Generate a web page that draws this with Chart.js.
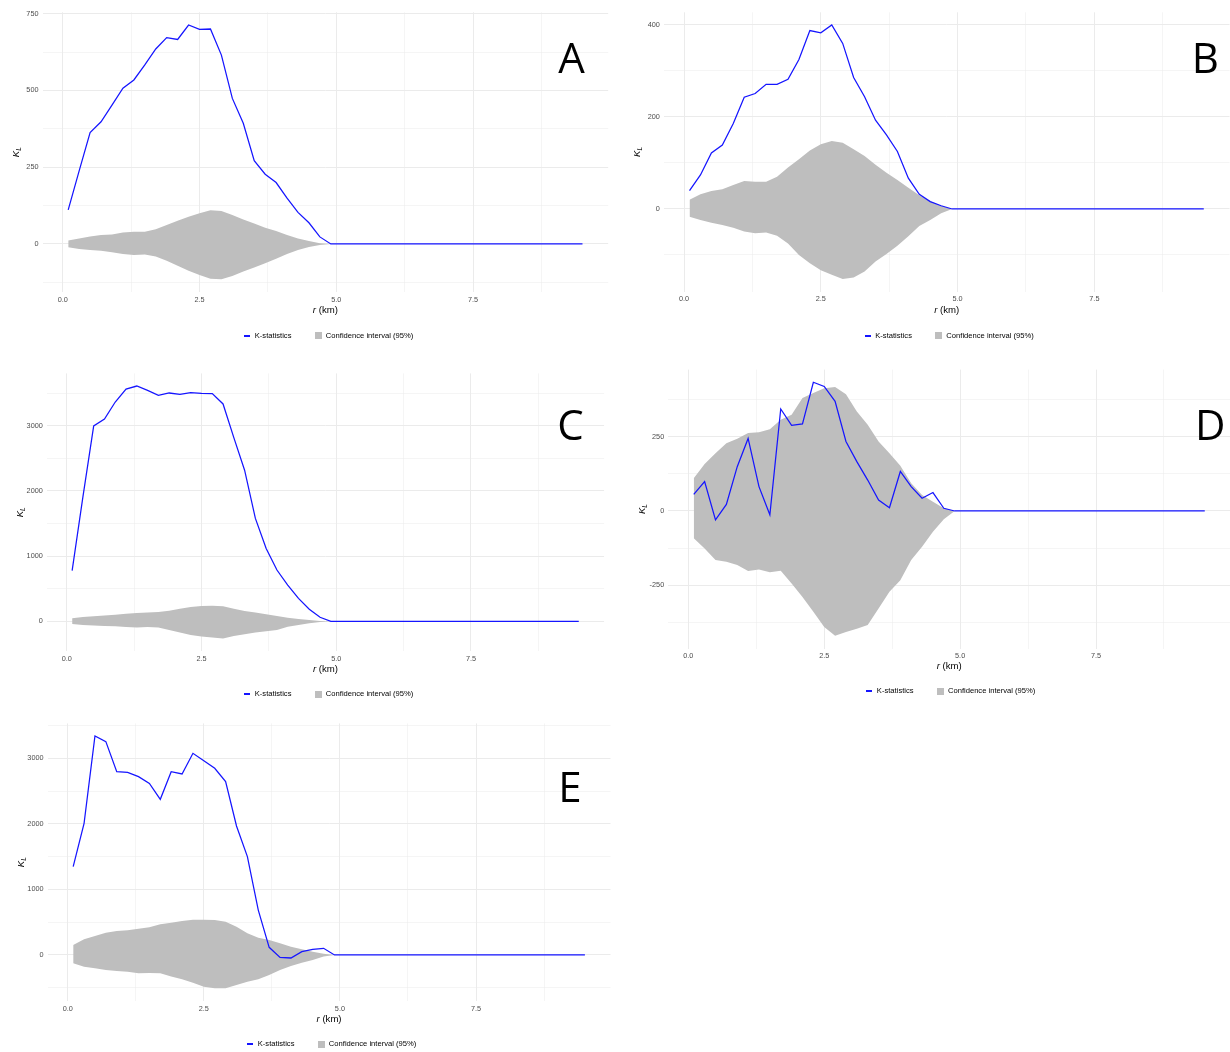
<!DOCTYPE html>
<html>
<head>
<meta charset="utf-8">
<script src="https://cdn.jsdelivr.net/npm/chart.js@4.4.1/dist/chart.umd.min.js"></script>
<style>
  html, body { margin: 0; padding: 0; background: #fff; width: 1230px; height: 1052px; overflow: hidden; }
  canvas { position: absolute; }
</style>
</head>
<body>
<canvas id="panelA"></canvas>
<canvas id="panelB"></canvas>
<canvas id="panelC"></canvas>
<canvas id="panelD"></canvas>
<canvas id="panelE"></canvas>
<script>
// distance r (km)
const r = [0.1, 0.3, 0.5, 0.7, 0.9, 1.1, 1.3, 1.5, 1.7, 1.9, 2.1, 2.3, 2.5, 2.7, 2.9, 3.1,
           3.3, 3.5, 3.7, 3.9, 4.1, 4.3, 4.5, 4.7, 4.9, 5.1, 5.3, 5.5, 5.7, 5.9, 6.1, 6.3,
           6.5, 6.7, 6.9, 7.1, 7.3, 7.5, 7.7, 7.9, 8.1, 8.3, 8.5, 8.7, 8.9, 9.1, 9.3, 9.5];

// A
const kA = [111, 238, 363, 398, 452, 507, 534, 583, 635, 672, 666, 713, 699, 700, 615, 474,
            393, 271, 227, 200, 149, 103, 69, 23, 0, 0, 0, 0, 0, 0, 0, 0,
            0, 0, 0, 0, 0, 0, 0, 0, 0, 0, 0, 0, 0, 0, 0, 0];
const hiA = [11, 18, 24, 29, 31, 37, 40, 40, 48, 62, 76, 89, 100, 110, 107, 94,
             80, 67, 53, 42, 29, 18, 10, 2, 0, 0, 0, 0, 0, 0, 0, 0,
             0, 0, 0, 0, 0, 0, 0, 0, 0, 0, 0, 0, 0, 0, 0, 0];
const loA = [-11, -16, -20, -22, -27, -33, -36, -34, -41, -55, -71, -87, -101, -113, -115, -104,
             -90, -77, -63, -48, -33, -20, -10, -3, 0, 0, 0, 0, 0, 0, 0, 0,
             0, 0, 0, 0, 0, 0, 0, 0, 0, 0, 0, 0, 0, 0, 0, 0];

// B
const kB = [40, 74, 122, 139, 186, 243, 251, 271, 271, 282, 325, 388, 383, 400, 360, 286,
            244, 193, 161, 125, 67, 32, 16, 7, 0, 0, 0, 0, 0, 0, 0, 0,
            0, 0, 0, 0, 0, 0, 0, 0, 0, 0, 0, 0, 0, 0, 0, 0];
const hiB = [20, 32, 39, 43, 52, 61, 59, 59, 70, 90, 108, 127, 141, 148, 144, 130,
             115, 96, 79, 63, 46, 30, 17, 7, 0, 0, 0, 0, 0, 0, 0, 0,
             0, 0, 0, 0, 0, 0, 0, 0, 0, 0, 0, 0, 0, 0, 0, 0];
const loB = [-17, -24, -30, -35, -41, -49, -53, -51, -58, -75, -100, -118, -133, -143, -152, -149,
             -136, -114, -98, -80, -59, -37, -24, -9, 0, 0, 0, 0, 0, 0, 0, 0,
             0, 0, 0, 0, 0, 0, 0, 0, 0, 0, 0, 0, 0, 0, 0, 0];

// C
const kC = [776, 1908, 2995, 3102, 3362, 3561, 3607, 3541, 3464, 3500, 3480, 3505, 3495, 3490, 3332, 2816,
            2316, 1577, 1117, 786, 556, 352, 184, 61, 0, 0, 0, 0, 0, 0, 0, 0,
            0, 0, 0, 0, 0, 0, 0, 0, 0, 0, 0, 0, 0, 0, 0, 0];
const hiC = [46, 66, 77, 87, 102, 117, 128, 133, 143, 163, 194, 219, 235, 240, 230, 194,
             158, 133, 107, 82, 56, 36, 20, 5, 0, 0, 0, 0, 0, 0, 0, 0,
             0, 0, 0, 0, 0, 0, 0, 0, 0, 0, 0, 0, 0, 0, 0, 0];
const loC = [-41, -56, -66, -71, -77, -87, -97, -87, -97, -133, -173, -209, -235, -250, -265, -224,
             -199, -173, -153, -133, -82, -56, -31, -10, 0, 0, 0, 0, 0, 0, 0, 0,
             0, 0, 0, 0, 0, 0, 0, 0, 0, 0, 0, 0, 0, 0, 0, 0];

// D
const kD = [56, 99, -30, 22, 149, 244, 82, -13, 343, 288, 293, 433, 419, 369, 234, 166,
            104, 37, 11, 133, 82, 43, 62, 9, 0, 0, 0, 0, 0, 0, 0, 0,
            0, 0, 0, 0, 0, 0, 0, 0, 0, 0, 0, 0, 0, 0, 0, 0];
const hiD = [110, 158, 194, 228, 243, 262, 265, 275, 307, 324, 380, 397, 413, 417, 393, 335,
             290, 234, 194, 152, 93, 54, 31, 9, 0, 0, 0, 0, 0, 0, 0, 0,
             0, 0, 0, 0, 0, 0, 0, 0, 0, 0, 0, 0, 0, 0, 0, 0];
const loD = [-92, -126, -165, -171, -182, -202, -197, -206, -201, -244, -289, -339, -390, -420, -407, -396,
             -384, -328, -272, -233, -165, -120, -70, -28, 0, 0, 0, 0, 0, 0, 0, 0,
             0, 0, 0, 0, 0, 0, 0, 0, 0, 0, 0, 0, 0, 0, 0, 0];

// E
const kE = [1347, 2008, 3340, 3254, 2796, 2786, 2720, 2618, 2374, 2796, 2761, 3076, 2964, 2847, 2644, 1968,
            1500, 685, 117, -36, -46, 51, 86, 102, 0, 0, 0, 0, 0, 0, 0, 0,
            0, 0, 0, 0, 0, 0, 0, 0, 0, 0, 0, 0, 0, 0, 0, 0];
const hiE = [153, 239, 290, 341, 366, 376, 402, 422, 468, 493, 519, 539, 539, 534, 508, 432,
             330, 264, 229, 178, 127, 86, 51, 20, 0, 0, 0, 0, 0, 0, 0, 0,
             0, 0, 0, 0, 0, 0, 0, 0, 0, 0, 0, 0, 0, 0, 0, 0];
const loE = [-127, -178, -203, -229, -244, -254, -280, -275, -280, -330, -371, -422, -483, -508, -508, -458,
             -407, -371, -305, -229, -168, -117, -76, -25, 0, 0, 0, 0, 0, 0, 0, 0,
             0, 0, 0, 0, 0, 0, 0, 0, 0, 0, 0, 0, 0, 0, 0, 0];

const FONT = '"Liberation Sans", Arial, Helvetica, sans-serif';
const BLUE = '#1515ff';
const GREY = '#bebebe';
const LEG_FONT = 7.6;
const LEG_PAD = 23;
const X_STEP = 1.25;   // minor grid step on r, labels every 2.5

Chart.defaults.font.family = FONT;

// canvas box, plot area (page px), legend centre, panel letter
const panels = [
  { id: 'panelA', k: kA, hi: hiA, lo: loA, yStep: 125, yMajor: 250,
    box: [0, 0, 620, 350], area: [42.5, 12.3, 608.2, 292.0], legend: [328.3, 335.7], tag: ['A', 571.5, 72.7] },
  { id: 'panelB', k: kB, hi: hiB, lo: loB, yStep: 100, yMajor: 200,
    box: [620, 0, 612, 350], area: [663.8, 12.3, 1229.5, 291.6], legend: [948.8, 335.7], tag: ['B', 1205.3, 72.7] },
  { id: 'panelC', k: kC, hi: hiC, lo: loC, yStep: 500, yMajor: 1000,
    box: [0, 355, 620, 355], area: [46.8, 373.4, 604.1, 651.2], legend: [328.3, 694.3], tag: ['C', 570.5, 440.2] },
  { id: 'panelD', k: kD, hi: hiD, lo: loD, yStep: 125, yMajor: 250,
    box: [620, 355, 612, 355], area: [668.2, 369.6, 1230.3, 648.5], legend: [950.4, 691.3], tag: ['D', 1210.3, 440] },
  { id: 'panelE', k: kE, hi: hiE, lo: loE, yStep: 500, yMajor: 1000,
    box: [0, 705, 620, 355], area: [47.6, 723.4, 610.5, 1000.9], legend: [331.3, 1044], tag: ['E', 569.8, 802.4] }
];

// legend keys: short blue line and grey square
function keyImage(w, h, color) {
  const c = document.createElement('canvas');
  c.width = w; c.height = h;
  const g = c.getContext('2d');
  g.fillStyle = color;
  g.fillRect(0, 0, w, h);
  return c;
}
const lineKey = keyImage(6, 2, BLUE);
const boxKey = keyImage(7, 7, GREY);

// every multiple of step inside the axis range (major + minor grid)
function stepTicks(scale, step) {
  const out = [];
  for (let i = Math.ceil(scale.min / step); i * step <= scale.max; i++) {
    out.push({ value: i * step });
  }
  scale.ticks = out;
}

// ggplot-like legend: centred under the plot, not the canvas
const centreLegend = {
  id: 'centreLegend',
  afterLayout(chart, args, opts) {
    const lg = chart.legend;
    const half = (lg.right - lg.left) / 2;
    lg.left = opts.x - half;
    lg.right = opts.x + half;
  }
};

// "r (km)" under the x axis and K_L beside the y axis
const axisTitles = {
  id: 'axisTitles',
  afterDraw(chart) {
    const { ctx, chartArea: a } = chart;
    const italic = 'italic 9.6px ' + FONT;
    const plain = '9.6px ' + FONT;
    const sub = 'italic 6.5px ' + FONT;
    ctx.save();
    ctx.fillStyle = '#000';
    ctx.textAlign = 'left';
    ctx.textBaseline = 'middle';
    ctx.font = italic;
    const w1 = ctx.measureText('r').width;
    ctx.font = plain;
    const w2 = ctx.measureText(' (km)').width;
    const x = (a.left + a.right) / 2 - (w1 + w2) / 2;
    const y = a.bottom + 18.3;
    ctx.font = italic;
    ctx.fillText('r', x, y);
    ctx.font = plain;
    ctx.fillText(' (km)', x + w1, y);

    ctx.translate(a.left - 23.5, (a.top + a.bottom) / 2);
    ctx.rotate(-Math.PI / 2);
    ctx.textBaseline = 'alphabetic';
    ctx.font = italic;
    const kw = ctx.measureText('K').width;
    ctx.font = sub;
    const lw = ctx.measureText('L').width;
    const x0 = -(kw + lw) / 2;
    ctx.font = italic;
    ctx.fillText('K', x0, 0);
    ctx.font = sub;
    ctx.fillText('L', x0 + kw, 2);
    ctx.restore();
  }
};

// big panel letter
const panelTag = {
  id: 'panelTag',
  afterDraw(chart, args, opts) {
    const ctx = chart.ctx;
    ctx.save();
    ctx.fillStyle = '#000';
    ctx.font = '42px "Open Sans", "Noto Sans", sans-serif';
    ctx.textAlign = 'center';
    ctx.textBaseline = 'alphabetic';
    ctx.fillText(opts.text, opts.x, opts.y);
    ctx.restore();
  }
};

function pts(values) {
  return values.map((v, i) => ({ x: r[i], y: v }));
}

function makePanel(p) {
  const [bx, by, bw, bh] = p.box;
  const [al, at, ar, ab] = p.area;
  const cv = document.getElementById(p.id);
  cv.width = bw;
  cv.height = bh;
  cv.style.left = bx + 'px';
  cv.style.top = by + 'px';

  const legendTop = p.legend[1] - LEG_PAD - LEG_FONT / 2;
  const legendH = LEG_FONT + LEG_PAD + 10;
  const xAxisH = legendTop - ab;
  const padBottom = (by + bh) - (legendTop + legendH);

  // 5% expansion on both ends, as ggplot does
  const all = p.k.concat(p.hi, p.lo);
  const lo = Math.min(...all), hi = Math.max(...all);
  const ext = (hi - lo) * 0.05;
  const xr = r[r.length - 1] - r[0];

  const isMajorY = v => Math.abs(v / p.yMajor - Math.round(v / p.yMajor)) < 1e-9;
  const isMajorX = v => Math.abs(v / 2.5 - Math.round(v / 2.5)) < 1e-9;

  return new Chart(cv, {
    type: 'line',
    data: {
      datasets: [
        { label: 'K-statistics', data: pts(p.k), borderColor: BLUE, borderWidth: 1.25,
          pointRadius: 0, fill: false },
        { label: 'ci-high', data: pts(p.hi), borderColor: 'rgba(0,0,0,0)', borderWidth: 0,
          pointRadius: 0, backgroundColor: GREY, fill: '+1' },
        { label: 'ci-low', data: pts(p.lo), borderColor: 'rgba(0,0,0,0)', borderWidth: 0,
          pointRadius: 0, fill: false }
      ]
    },
    options: {
      responsive: false,
      animation: false,
      events: [],
      layout: { padding: { top: at - by, right: (bx + bw) - ar, left: 0, bottom: padBottom } },
      scales: {
        x: {
          type: 'linear',
          min: r[0] - xr * 0.05,
          max: r[r.length - 1] + xr * 0.05,
          border: { display: false },
          grid: {
            drawTicks: false,
            color: '#ebebeb',
            lineWidth: c => (isMajorX(c.tick.value) ? 1 : 0.5)
          },
          ticks: {
            autoSkip: false,
            maxRotation: 0,
            padding: 3.3,
            color: '#4d4d4d',
            font: { size: 7.3 },
            callback: v => (isMajorX(v) ? v.toFixed(1) : '')
          },
          afterBuildTicks: s => stepTicks(s, X_STEP),
          afterFit: s => { s.height = xAxisH; }
        },
        y: {
          min: lo - ext,
          max: hi + ext,
          border: { display: false },
          grid: {
            drawTicks: false,
            color: '#ebebeb',
            lineWidth: c => (isMajorY(c.tick.value) ? 1 : 0.5)
          },
          ticks: {
            autoSkip: false,
            padding: 4,
            color: '#4d4d4d',
            font: { size: 7.3 },
            callback: v => (isMajorY(v) ? String(v) : '')
          },
          afterBuildTicks: s => stepTicks(s, p.yStep),
          afterFit: s => { s.width = al - bx; }
        }
      },
      plugins: {
        tooltip: { enabled: false },
        legend: {
          position: 'bottom',
          labels: {
            usePointStyle: true,
            padding: LEG_PAD,
            color: '#1a1a1a',
            font: { size: LEG_FONT },
            generateLabels: () => [
              { text: 'K-statistics', pointStyle: lineKey, lineWidth: 0, hidden: false, datasetIndex: 0 },
              { text: 'Confidence interval (95%)', pointStyle: boxKey, lineWidth: 0, hidden: false, datasetIndex: 1 }
            ]
          }
        },
        centreLegend: { x: p.legend[0] - bx },
        panelTag: { text: p.tag[0], x: p.tag[1] - bx, y: p.tag[2] - by }
      }
    },
    plugins: [centreLegend, axisTitles, panelTag]
  });
}

panels.forEach(makePanel);
</script>
</body>
</html>
